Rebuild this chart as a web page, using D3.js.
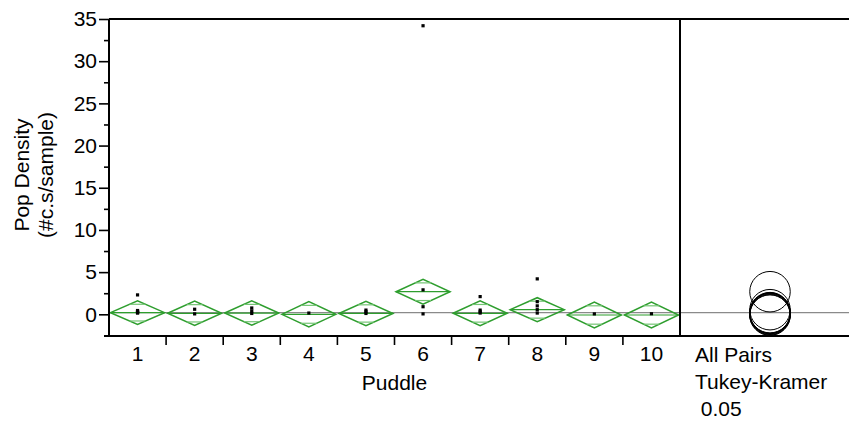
<!DOCTYPE html>
<html><head><meta charset="utf-8">
<script src="https://cdn.jsdelivr.net/npm/d3@7"></script>
<style>html,body{margin:0;padding:0;background:#fff;}svg{display:block;font-family:"Liberation Sans",Arial,sans-serif;}</style>
</head><body>
<svg id="c" width="849" height="424"></svg>
<script>
const puddles = ["1","2","3","4","5","6","7","8","9","10"];
const observations = [
  [2.3,0.45,0.35,0.25,0.2,0.15],
  [0.6,0.05],
  [0.75,0.4,0.1],
  [0.15],
  [0.5,0.3,0.1],
  [34.2,2.9,0.9,0.05],
  [2.1,0.5,0.3,0.15],
  [4.2,1.5,1.0,0.55,0.15],
  [0.05],
  [0.07]
];
const groupMeans = [0.2,0.12,0.15,0.0,0.1,2.68,0.12,0.55,-0.08,-0.08];
const ciHalf = [1.4,1.45,1.45,1.5,1.45,1.48,1.48,1.42,1.54,1.54];
const grandMean = 0.2;
const circleRadius = 2.4;
const yMajorTicks = [0,5,10,15,20,25,30,35];
const yMinorTicks = [2.5,7.5,12.5,17.5,22.5,27.5,32.5];
const compareText = ["All Pairs","Tukey-Kramer"," 0.05"];

const svg = d3.select("#c");
const L = 109, R = 680, T = 19, B = 336, PR = 860;
const x = d3.scaleBand().domain(puddles).range([L, R]).padding(0);
const y = d3.scaleLinear().domain([-2.57, 35]).range([B, T]);
const fs = 21;

// grand mean line
svg.append("line").attr("x1", L).attr("x2", 849).attr("y1", y(grandMean)).attr("y2", y(grandMean))
  .attr("stroke", "#8a8a8a").attr("stroke-width", 1.2);

// diamonds
const green = "#2e9e2e", lgreen = "#74c474";
puddles.forEach((p, i) => {
  const cx = x(p) + x.bandwidth() / 2;
  const hw = x.bandwidth() / 2 - 1.5;
  const m = groupMeans[i], h = ciHalf[i];
  const yc = y(m), yt = y(m + h), yb = y(m - h);
  const g = svg.append("g");
  g.append("path").attr("d", `M${cx-hw},${yc}L${cx},${yt}L${cx+hw},${yc}L${cx},${yb}Z`)
    .attr("fill", "none").attr("stroke", green).attr("stroke-width", 1.5);
  g.append("line").attr("x1", cx-hw).attr("x2", cx+hw).attr("y1", yc).attr("y2", yc)
    .attr("stroke", green).attr("stroke-width", 1.2);
  const ho = h / Math.SQRT2;
  const f = 1 - ho / h;
  [m + ho, m - ho].forEach(v => {
    g.append("line").attr("x1", cx - hw*f).attr("x2", cx + hw*f).attr("y1", y(v)).attr("y2", y(v))
      .attr("stroke", lgreen).attr("stroke-width", 1.2);
  });
  observations[i].forEach(v => {
    g.append("rect").attr("x", cx - 1.6).attr("y", y(v) - 1.6).attr("width", 3.2).attr("height", 3.2).attr("fill", "#000");
  });
});

// comparison circles
const ccx = (R + PR) / 2;
const rpx = y(0) - y(circleRadius);
groupMeans.forEach(m => {
  svg.append("circle").attr("cx", ccx).attr("cy", y(m)).attr("r", rpx)
    .attr("fill", "none").attr("stroke", "#000").attr("stroke-width", 1);
});

// frame
svg.append("line").attr("x1", L).attr("x2", 849).attr("y1", T).attr("y2", T).attr("stroke", "#000").attr("stroke-width", 2);
svg.append("line").attr("x1", 104).attr("x2", 849).attr("y1", B).attr("y2", B).attr("stroke", "#000").attr("stroke-width", 2);
svg.append("line").attr("x1", L).attr("x2", L).attr("y1", T).attr("y2", B).attr("stroke", "#000").attr("stroke-width", 2);
svg.append("line").attr("x1", R).attr("x2", R).attr("y1", T).attr("y2", B).attr("stroke", "#000").attr("stroke-width", 2);

// y axis
const yAx = svg.append("g").attr("transform", `translate(${L},0)`)
  .call(d3.axisLeft(y).tickValues(yMajorTicks).tickSize(10).tickPadding(2).tickFormat(d3.format("d")));
yAx.select(".domain").remove();
yAx.selectAll("line").attr("stroke", "#000").attr("stroke-width", 1.6);
yAx.selectAll("text").attr("font-size", fs).attr("font-family", "Liberation Sans, Arial, sans-serif").attr("fill", "#000");
const yMin = svg.append("g").attr("transform", `translate(${L},0)`)
  .call(d3.axisLeft(y).tickValues(yMinorTicks).tickSize(5).tickFormat(""));
yMin.select(".domain").remove();
yMin.selectAll("line").attr("stroke", "#000").attr("stroke-width", 1.6);

// x axis labels
const xAx = svg.append("g").attr("transform", `translate(0,${B})`)
  .call(d3.axisBottom(x).tickSize(0).tickPadding(10));
xAx.select(".domain").remove();
xAx.selectAll("text").attr("font-size", fs).attr("font-family", "Liberation Sans, Arial, sans-serif").attr("fill", "#000");
// separator ticks at band boundaries
puddles.slice(1).forEach(p => {
  svg.append("line").attr("x1", x(p)).attr("x2", x(p)).attr("y1", B).attr("y2", B + 9)
    .attr("stroke", "#000").attr("stroke-width", 1.6);
});

// axis titles
svg.append("text").attr("x", (L + R) / 2).attr("y", 390).attr("text-anchor", "middle")
  .attr("font-size", fs).text("Puddle");
const yt = svg.append("text").attr("transform", `translate(0,175) rotate(-90)`).attr("text-anchor", "middle").attr("font-size", fs);
yt.append("tspan").attr("x", 0).attr("y", 29).text("Pop Density");
yt.append("tspan").attr("x", 0).attr("y", 53).text("(#c.s/sample)");

compareText.forEach((t, i) => {
  svg.append("text").attr("x", 695).attr("y", 362 + i * 27).attr("font-size", fs)
    .attr("xml:space", "preserve").style("white-space", "pre").text(t);
});
</script>
</body></html>
